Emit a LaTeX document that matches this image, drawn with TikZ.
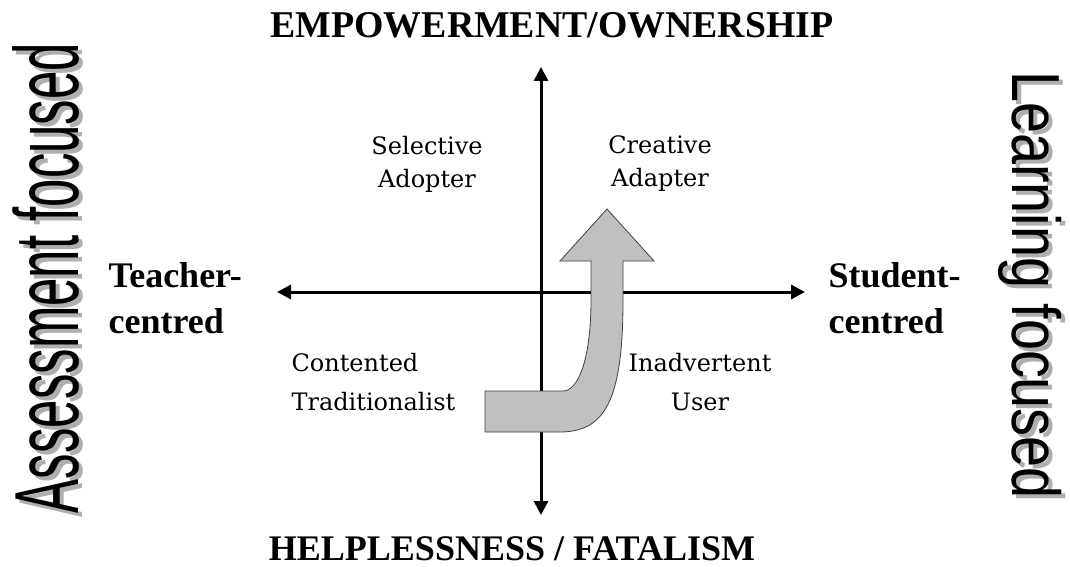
\documentclass[tikz,border=0pt]{standalone}
\usepackage{fontspec}
\setmainfont{Liberation Serif}
\newfontfamily\quadfont{DejaVu Serif}
\newfontfamily\assessfont[FakeStretch=0.56]{Liberation Sans}
\newfontfamily\learnfont[FakeStretch=0.82]{Liberation Sans}
\usepackage{tikz}
\usetikzlibrary{arrows.meta}
\definecolor{arrowgray}{RGB}{192,192,192}
\definecolor{shadowgray}{RGB}{175,175,175}

\begin{document}
\begin{tikzpicture}[x=1pt,y=-1pt,
    axis/.style={line width=3pt,{Triangle[length=14pt,width=14pt]}-{Triangle[length=14pt,width=14pt]}},
    pole/.style={font=\fontsize{36}{40}\selectfont\bfseries},
    side/.style={font=\fontsize{36}{46}\selectfont\bfseries,align=left,anchor=west},
    quad/.style={font=\quadfont\fontsize{24}{33}\selectfont,align=center},
    bigarrow/.style={fill=arrowgray,draw=black!75,line width=0.8pt}]
    \useasboundingbox (0,0) rectangle (1070,567);
    %axes
    \coordinate (N) at (541,67);
    \coordinate (S) at (541,515);
    \coordinate (W) at (277,292);
    \coordinate (E) at (805,292);
    \draw[axis] (S) -- (N);
    \draw[axis] (W) -- (E);
    %poles
    \node[pole,anchor=base,font=\fontsize{37.8}{40}\selectfont\bfseries] (top) at (552,38) {EMPOWERMENT/OWNERSHIP};
    \node[pole,anchor=base] (bottom) at (512,560) {HELPLESSNESS / FATALISM};
    \node[side] (teacher) at (105,298) {Teacher-\\centred};
    \node[side] (student) at (825,298) {Student-\\centred};
    %quadrants
    \node[quad] (selective) at (427,164) {Selective\\Adopter};
    \node[quad] (creative) at (660,164) {Creative\\Adapter};
    \node[quad,align=left,anchor=west,font=\quadfont\fontsize{24}{39}\selectfont] (contented) at (288,382) {Contented\\Traditionalist};
    \node[quad,font=\quadfont\fontsize{24}{39}\selectfont] (inadvertent) at (700,382) {Inadvertent\\User};
    %side labels
    \node[rotate=90,inner sep=0pt,text=shadowgray,font=\assessfont\fontsize{91}{91}\selectfont] (assessshadow) at (50,282) {Assessment focused};
    \node[rotate=90,inner sep=0pt,font=\assessfont\fontsize{91}{91}\selectfont] (assess) at (46,278) {Assessment focused};
    \node[rotate=-90,inner sep=0pt,text=shadowgray,font=\learnfont\fontsize{68}{68}\selectfont] (learnshadow) at (1034,289) {Learning focused};
    \node[rotate=-90,inner sep=0pt,font=\learnfont\fontsize{68}{68}\selectfont] (learning) at (1030,285) {Learning focused};
    %arrow
    \draw[bigarrow] (485,391) -- (563,391) .. controls (578,391) and (591,360) .. (591,300)
        -- (591,261) -- (560,261) -- (607,209) -- (654,261) -- (623,261) -- (623,300)
        .. controls (623,400) and (605,432) .. (560,432) -- (485,432) -- cycle;
\end{tikzpicture}
\end{document}
